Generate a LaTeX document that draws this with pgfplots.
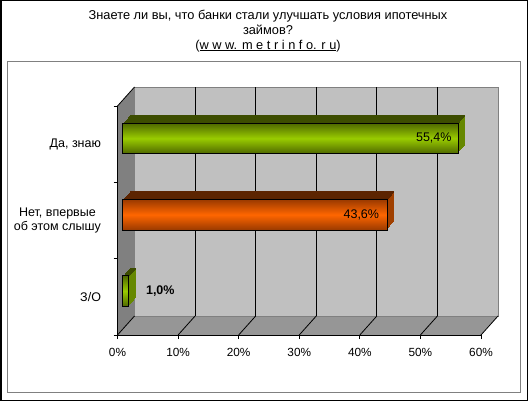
\documentclass[border=0pt]{standalone}
\usepackage{pgfplots}
\pgfplotsset{compat=1.18}
\usepackage{fontspec}
\setmainfont{Liberation Sans}
\definecolor{wallback}{HTML}{C0C0C0}
\definecolor{wallside}{HTML}{808080}
\definecolor{wallfloor}{HTML}{969696}
\definecolor{gfront}{HTML}{99CC00}
\definecolor{gdark}{HTML}{4F6800}
\definecolor{gtop}{HTML}{3D4D00}
\definecolor{gside}{HTML}{668800}
\definecolor{ofront}{HTML}{FF6600}
\definecolor{odark}{HTML}{9A3A00}
\definecolor{otop}{HTML}{5C2400}
\definecolor{oside}{HTML}{A04000}
\newcommand{\lblfont}{\fontsize{12.5bp}{13.8bp}\selectfont}
\newcommand{\tickfont}{\fontsize{11.8bp}{13.8bp}\selectfont}
% one slice of the bar's depth: value, category, xshift, yshift, fill, bar width
\newcommand{\pstep}[6]{%
  \addplot[xbar, bar width=#6, draw=none, fill=#5, xshift=#3, yshift=#4] coordinates {(#1,#2)};%
}
\newcommand{\prism}[7]{%
  \pstep{#1}{#2}{12.2bp}{13.80bp}{#6}{30.5bp}
  \pstep{#1}{#2}{11.2bp}{12.66bp}{#6}{30.5bp}
  \pstep{#1}{#2}{10.2bp}{11.51bp}{#6}{30.5bp}
  \pstep{#1}{#2}{9.2bp}{10.37bp}{#6}{30.5bp}
  \pstep{#1}{#2}{8.2bp}{9.23bp}{#6}{30.5bp}
  \pstep{#1}{#2}{7.2bp}{8.09bp}{#6}{30.5bp}
  \pstep{#1}{#2}{6.2bp}{6.94bp}{#6}{30.5bp}
  \pstep{#1}{#2}{12.2bp}{28.15bp}{#5}{1.8bp}
  \pstep{#1}{#2}{11.2bp}{27.01bp}{#5}{1.8bp}
  \pstep{#1}{#2}{10.2bp}{25.86bp}{#5}{1.8bp}
  \pstep{#1}{#2}{9.2bp}{24.72bp}{#5}{1.8bp}
  \pstep{#1}{#2}{8.2bp}{23.58bp}{#5}{1.8bp}
  \pstep{#1}{#2}{7.2bp}{22.44bp}{#5}{1.8bp}
  \pstep{#1}{#2}{6.2bp}{21.29bp}{#5}{1.8bp}
  \addplot[xbar, bar width=30.5bp, draw=black, line width=0.6bp,
    top color=#4, bottom color=#4, middle color=#3,
    xshift=5.2bp, yshift=5.8bp, point meta=x,
    nodes near coords={\pgfmathprintnumber[fixed,fixed zerofill,precision=1,use comma]{\pgfplotspointmeta}\%},
    every node near coord/.append style={#7}] coordinates {(#1,#2)};
}
\begin{document}
\begin{tikzpicture}[x=1bp,y=1bp]
\useasboundingbox (0,0) rectangle (528,401);
\fill[white] (0,0) rectangle (528,401);
\draw[black, line width=1.5bp] (0.75,0.75) rectangle (527.25,400.25);
\draw[wallside, line width=1bp] (7.5,8.5) rectangle (520.5,339.5);
\node[align=center, font=\fontsize{12.8bp}{14.7bp}\selectfont] at (268,370)
  {Знаете ли вы, что банки стали улучшать условия ипотечных\\займов?\\(\underline{w w w. m e t r i n f o. r u})};
\begin{axis}[
  at={(117.5bp,66bp)}, anchor=south west, scale only axis,
  width=363.5bp, height=229bp,
  xmin=0, xmax=60, ymin=0, ymax=3, clip=false,
  axis on top,
  axis x line*=bottom, axis y line*=left,
  axis line style={black, line width=0.8bp},
  tick style={black, line width=0.8bp},
  tick align=outside, major tick length=4bp,
  xtick={0,10,...,60},
  xticklabel={\pgfmathprintnumber{\tick}\%},
  ytick={0,1,2,3}, yticklabels={},
  extra y ticks={0.5,1.5,2.5},
  extra y tick labels={З/О,{Нет, впервые\\об этом слышу},{Да, знаю}},
  extra y tick style={major tick length=0pt},
  yticklabel style={align=center, font=\lblfont, xshift=-13bp},
  xticklabel style={font=\tickfont, yshift=-5.5bp},
  /pgf/number format/assume math mode=true,
]
% walls
\fill[wallback] ([shift={(17bp,19bp)}]axis cs:0,0) rectangle ([shift={(17bp,19bp)}]axis cs:60,3);
\fill[wallside] (axis cs:0,0) -- (axis cs:0,3) -- ([shift={(17bp,19bp)}]axis cs:0,3) -- ([shift={(17bp,19bp)}]axis cs:0,0) -- cycle;
\fill[wallfloor] (axis cs:0,0) -- (axis cs:60,0) -- ([shift={(17bp,19bp)}]axis cs:60,0) -- ([shift={(17bp,19bp)}]axis cs:0,0) -- cycle;
\draw[wallside, line width=0.8bp] ([shift={(17bp,19bp)}]axis cs:0,0) rectangle ([shift={(17bp,19bp)}]axis cs:60,3);
\draw[black, line width=0.8bp] ([shift={(17bp,19bp)}]axis cs:10,0) -- ([shift={(17bp,19bp)}]axis cs:10,3);
\draw[black, line width=0.8bp] ([shift={(17bp,19bp)}]axis cs:20,0) -- ([shift={(17bp,19bp)}]axis cs:20,3);
\draw[black, line width=0.8bp] ([shift={(17bp,19bp)}]axis cs:30,0) -- ([shift={(17bp,19bp)}]axis cs:30,3);
\draw[black, line width=0.8bp] ([shift={(17bp,19bp)}]axis cs:40,0) -- ([shift={(17bp,19bp)}]axis cs:40,3);
\draw[black, line width=0.8bp] ([shift={(17bp,19bp)}]axis cs:50,0) -- ([shift={(17bp,19bp)}]axis cs:50,3);
\draw[black, line width=0.8bp] (axis cs:0,0) -- ([shift={(17bp,19bp)}]axis cs:0,0);
\draw[black, line width=0.8bp] (axis cs:10,0) -- ([shift={(17bp,19bp)}]axis cs:10,0);
\draw[black, line width=0.8bp] (axis cs:20,0) -- ([shift={(17bp,19bp)}]axis cs:20,0);
\draw[black, line width=0.8bp] (axis cs:30,0) -- ([shift={(17bp,19bp)}]axis cs:30,0);
\draw[black, line width=0.8bp] (axis cs:40,0) -- ([shift={(17bp,19bp)}]axis cs:40,0);
\draw[black, line width=0.8bp] (axis cs:50,0) -- ([shift={(17bp,19bp)}]axis cs:50,0);
\draw[black, line width=0.8bp] (axis cs:60,0) -- ([shift={(17bp,19bp)}]axis cs:60,0);
\draw[black, line width=0.8bp] (axis cs:0,3) -- ([shift={(17bp,19bp)}]axis cs:0,3);
% bars
\prism{55.4}{2.5}{gfront}{gdark}{gtop}{gside}{anchor=east, inner sep=0pt, xshift=-6.5bp, font=\lblfont}
\prism{43.6}{1.5}{ofront}{odark}{otop}{oside}{anchor=east, inner sep=0pt, xshift=-7.5bp, font=\lblfont}
\prism{1.0}{0.5}{gfront}{gdark}{gtop}{gside}{anchor=west, inner sep=0pt, xshift=17bp, font=\lblfont\bfseries}
\end{axis}
\end{tikzpicture}
\end{document}
